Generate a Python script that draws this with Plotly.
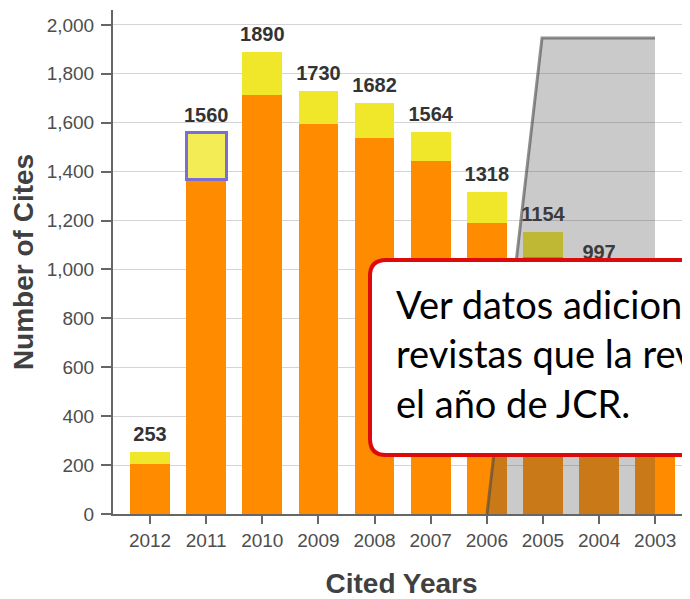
import plotly.graph_objects as go

# cited years and stacked cite counts
years = ['2012', '2011', '2010', '2009', '2008', '2007', '2006', '2005', '2004', '2003']
orange_vals = [203, 1366, 1714, 1594, 1539, 1444, 1189, 1052, 890, 770]
totals = [253, 1560, 1890, 1730, 1682, 1564, 1318, 1154, 997, 860]
yellow_vals = [t - o for t, o in zip(totals, orange_vals)]
y_ticks = [0, 200, 400, 600, 800, 1000, 1200, 1400, 1600, 1800, 2000]

callout_lines = ['Ver datos adicionales de las',
                 'revistas que la revista cita en',
                 'el año de JCR.']

# the page body adds an 8px margin, so the figure is shrunk and everything
# below is given in window pixels and shifted back by OFF
OFF = 8
W, H = 690 - OFF, 599 - OFF
L, T, B = 113, 10, 514  # plot area edges in window pixels


def px_x(p):
    return (p - L) / (W + OFF - L)


def px_y(p):
    return (B - p) / (B - T)


def path_from_px(pts, close=True):
    s = ''
    for cmd, xy in pts:
        s += cmd + ' '.join('%.5f,%.5f' % (px_x(x), px_y(y)) for x, y in xy) + ' '
    return s + ('Z' if close else '')


yellow_colors = ['#f0e62a'] * len(years)
yellow_colors[1] = '#f3ec55'
yellow_line_colors = ['rgba(0,0,0,0)'] * len(years)
yellow_line_colors[1] = '#7a6ed4'
yellow_line_widths = [0] * len(years)
yellow_line_widths[1] = 3

fig = go.Figure()
fig.add_trace(go.Bar(x=years, y=orange_vals, marker=dict(color='#ff8c00', line=dict(width=0)),
                     hoverinfo='skip'))
fig.add_trace(go.Bar(x=years, y=yellow_vals,
                     marker=dict(color=yellow_colors,
                                 line=dict(color=yellow_line_colors, width=yellow_line_widths)),
                     hoverinfo='skip'))
fig.add_trace(go.Scatter(x=years, y=totals, mode='markers+text', text=[str(t) for t in totals],
                         textposition='top center', cliponaxis=False,
                         marker=dict(size=8, color='rgba(0,0,0,0)'),
                         textfont=dict(family='Arial', size=20, color='#333333', weight='bold'),
                         hoverinfo='skip'))

# grey zoom wedge from the slide
wedge = [('M', [(487, 514)]), ('L', [(542, 38)]), ('L', [(655, 38)]), ('L', [(655, 514)])]
wedge_edge = [('M', [(487, 514)]), ('L', [(542, 38)]), ('L', [(655, 38)])]

# rounded callout box, running off the right edge
r = 16
x0, x1, y0, y1 = 370, 760, 260, 455
box = [('M', [(x0 + r, y0)]), ('L', [(x1, y0)]), ('L', [(x1, y1)]), ('L', [(x0 + r, y1)]),
       ('Q', [(x0, y1), (x0, y1 - r)]), ('L', [(x0, y0 + r)]), ('Q', [(x0, y0), (x0 + r, y0)])]

shapes = [
    dict(type='path', xref='paper', yref='paper', path=path_from_px(wedge),
         fillcolor='rgba(80,80,80,0.3)', line=dict(width=0), layer='above'),
    dict(type='path', xref='paper', yref='paper', path=path_from_px(wedge_edge, close=False),
         line=dict(color='rgba(70,70,70,0.6)', width=3), layer='above'),
    dict(type='path', xref='paper', yref='paper', path=path_from_px(box),
         fillcolor='white', line=dict(color='#dd0a0a', width=4), layer='above'),
]

fig.update_layout(
    width=W, height=H,
    margin=dict(l=L - OFF, r=0, t=T - OFF, b=H + OFF - B, pad=0, autoexpand=False),
    paper_bgcolor='white', plot_bgcolor='white',
    barmode='stack', bargap=0.29, showlegend=False,
    font=dict(family='Arial', color='#4d4d4d'),
    shapes=shapes,
    annotations=[dict(xref='paper', yref='paper', x=px_x(394), y=px_y(279),
                      xanchor='left', yanchor='top', align='left', showarrow=False,
                      text='<br>'.join(callout_lines),
                      font=dict(family='Lato', size=38, color='#000000'))],
)
fig.update_xaxes(range=[-0.66, 9.62], showline=True, linecolor='#666666', linewidth=2,
                 ticks='outside', ticklen=8, tickwidth=2, tickcolor='#666666',
                 tickfont=dict(size=19, color='#4d4d4d'), showgrid=False,
                 title=dict(text='<b>Cited Years</b>', font=dict(size=28, color='#404040'), standoff=27))
fig.update_yaxes(range=[0, 2061], tickvals=y_ticks, tickformat=',', showline=True,
                 linecolor='#666666', linewidth=2, ticks='outside', ticklen=10, tickwidth=2,
                 tickcolor='#666666', tickfont=dict(size=19, color='#4d4d4d'), ticklabelstandoff=3,
                 gridcolor='#d4d4d4', gridwidth=1, zeroline=False,
                 title=dict(text='<b>Number of Cites</b>', font=dict(size=28, color='#404040'), standoff=10))

fig.write_html('out.html')
